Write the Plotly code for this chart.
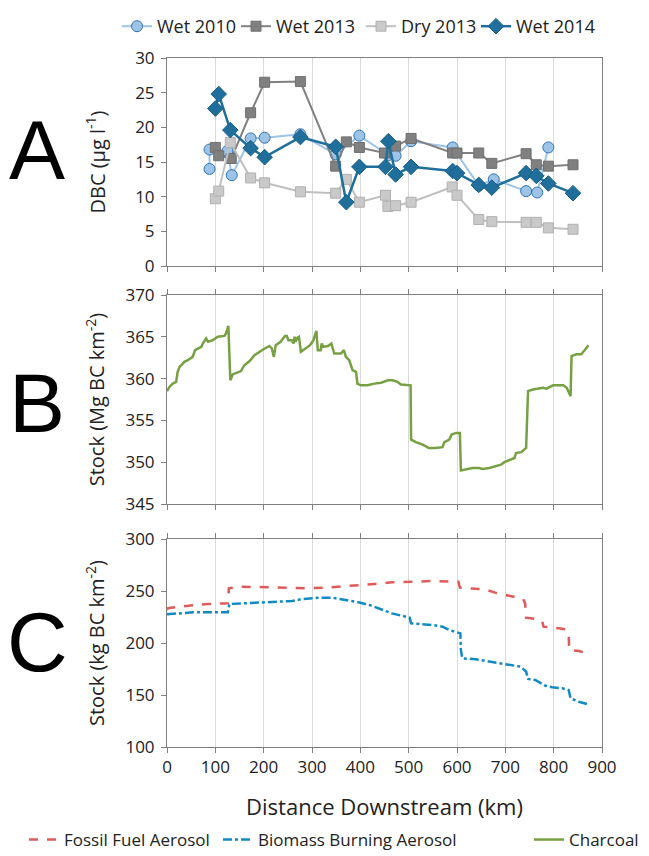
import plotly.graph_objects as go

# ---------------- Panel A data: DBC (ug/l) ----------------
wet2010_km = [88, 88, 125, 134, 173, 202, 276, 349, 398, 458, 473, 505, 591, 645, 676, 743, 766, 789]
wet2010_val = [14.0, 16.8, 16.6, 13.1, 18.4, 18.5, 19.0, 16.1, 18.8, 16.0, 15.9, 18.0, 17.1, 11.6, 12.5, 10.8, 10.6, 17.1]

wet2013_km = [100, 107, 133, 173, 202, 276, 349, 371, 398, 450, 473, 505, 591, 600, 645, 672, 743, 764, 789, 840]
wet2013_val = [17.1, 15.9, 15.5, 22.1, 26.5, 26.6, 14.4, 17.9, 17.1, 16.3, 17.3, 18.4, 16.3, 16.3, 16.3, 14.8, 16.2, 14.6, 14.4, 14.6]

dry2013_km = [100, 107, 131, 173, 202, 276, 349, 371, 398, 452, 457, 473, 505, 590, 600, 645, 672, 743, 764, 789, 840]
dry2013_val = [9.7, 10.8, 17.8, 12.7, 12.0, 10.7, 10.5, 12.5, 9.2, 10.2, 8.6, 8.7, 9.2, 11.4, 10.2, 6.7, 6.4, 6.3, 6.3, 5.5, 5.3]

wet2014_km = [100, 107, 131, 173, 202, 276, 349, 371, 398, 452, 458, 473, 505, 591, 600, 645, 672, 743, 764, 789, 840]
wet2014_val = [22.7, 24.8, 19.6, 17.0, 15.7, 18.6, 17.2, 9.2, 14.3, 14.3, 18.0, 13.2, 14.3, 13.7, 13.4, 11.7, 11.3, 13.4, 13.0, 11.9, 10.5]

# ---------------- Panel B data: charcoal stock (Mg BC km-2) ----------------
charcoal_km = [0, 5, 12, 19, 22, 26, 36, 43, 53, 58, 71, 74, 81, 85, 95, 105, 119, 122, 127, 129, 131,
               136, 146, 153, 160, 171, 181, 191, 202, 212, 217, 221, 225, 235, 244, 248, 251, 258,
               262, 264, 266, 270, 273, 277, 287, 296, 303, 309, 312, 318, 320, 323, 333, 340, 346,
               360, 366, 370, 377, 384, 391, 394, 401, 415, 429, 443, 457, 467, 477, 484, 504, 505,
               515, 529, 542, 556, 570, 574, 584, 589, 598, 606, 608, 618, 632, 646, 653, 667, 680,
               691, 698, 709, 719, 722, 733, 743, 747, 757, 771, 778, 785, 799, 820, 827, 835, 837,
               847, 857, 864, 867, 872]
charcoal_val = [358.5, 359.0, 359.4, 359.6, 360.8, 361.4, 362.0, 362.2, 362.6, 363.4, 363.8, 364.2, 364.8,
                364.4, 364.6, 365.0, 365.1, 365.4, 366.3, 362.6, 359.8,
                360.5, 360.7, 360.9, 361.6, 362.1, 362.8, 363.2, 363.6, 363.9, 363.6, 362.6, 364.0,
                364.4, 365.1, 365.1, 364.6, 364.6,
                364.2, 365.0, 364.4, 364.9, 365.0, 363.2, 363.6, 364.0, 364.6, 365.7, 363.4, 363.4,
                364.2, 363.8, 363.9, 364.2, 363.0,
                363.0, 363.4, 362.6, 362.2, 361.0, 360.8, 359.4, 359.2, 359.2, 359.4, 359.5, 359.8,
                359.8, 359.6, 359.3, 359.2, 352.7,
                352.4, 352.1, 351.7, 351.7, 351.8, 352.4, 352.7, 353.3, 353.5, 353.5, 349.0, 349.1,
                349.3, 349.3, 349.2, 349.3, 349.5,
                349.7, 350.0, 350.3, 350.5, 351.1, 351.2, 351.7, 358.5, 358.7, 358.8, 358.9, 358.8,
                359.2, 359.2, 358.9, 357.9, 362.7,
                362.9, 362.9, 363.4, 363.6, 364.0]

# ---------------- Panel C data: aerosol stock (kg BC km-2) ----------------
fossil_km = [0, 2, 26, 54, 83, 126, 128, 150, 190, 259, 293, 327, 361, 396, 430, 465, 499, 522, 550, 591,
             603, 606, 630, 658, 679, 699, 720, 737, 741, 743, 762, 776, 779, 803, 821, 831, 832, 852, 869]
fossil_val = [232.0, 233.4, 235.0, 236.5, 237.5, 238.1, 252.6, 254.2, 253.8, 252.6, 252.6, 253.2, 254.2,
              255.8, 256.8, 258.3, 259.0, 259.3, 259.6, 259.0, 259.0, 253.2, 252.6, 251.6, 248.4, 246.2,
              243.6, 242.3, 238.1, 224.4, 223.1, 221.2, 215.7, 214.7, 213.5, 210.3, 193.3, 192.3, 190.1]

biomass_km = [0, 19, 54, 102, 126, 129, 156, 190, 225, 259, 280, 314, 342, 369, 396, 423, 451, 465, 485,
              502, 505, 522, 550, 570, 584, 607, 608, 611, 639, 660, 680, 708, 732, 743, 747, 762, 783,
              797, 818, 831, 835, 852, 869]
biomass_val = [227.6, 228.5, 229.5, 229.5, 229.5, 237.5, 238.2, 238.8, 239.7, 240.4, 242.3, 243.6, 243.6,
               241.3, 239.1, 235.9, 230.8, 228.5, 226.3, 224.4, 218.9, 218.5, 217.3, 215.7, 212.5, 209.3,
               193.3, 185.3, 184.3, 182.7, 181.1, 179.5, 177.2, 172.4, 165.4, 164.4, 158.9, 157.4, 156.4,
               154.8, 146.8, 143.5, 141.3]

x_ticks = [0, 100, 200, 300, 400, 500, 600, 700, 800, 900]

FONT = "Open Sans"
AXC = "#7f7f7f"
GRID = "#d9d9d9"
TXT = "#222222"

# The page body has an 8px margin, so the figure is drawn 8px smaller and all
# screen-pixel layout targets are shifted by OFF.
OFF = 8
W, H = 649 - OFF, 856 - OFF
LEFT, RIGHT = 167 - OFF, 602 - OFF
top, bottom = 58 - OFF, 747 - OFF
pw = RIGHT - LEFT
ph = bottom - top


def px_x(x):
    return (x - OFF - LEFT) / pw


def px_y(y):
    return (bottom - (y - OFF)) / ph


def dom(y0, y1):
    return [px_y(y1), px_y(y0)]


fig = go.Figure()

# Panel A traces (each with its own single-entry legend so positions match the reference)
fig.add_trace(go.Scatter(x=wet2010_km, y=wet2010_val, name="Wet 2010", mode="lines+markers",
                         line=dict(color="#9dc3e6", width=2),
                         marker=dict(symbol="circle", size=11, color="#9dc3e6",
                                     line=dict(color="#2e75b6", width=1)),
                         xaxis="x", yaxis="y", legend="legend"))
fig.add_trace(go.Scatter(x=wet2013_km, y=wet2013_val, name="Wet 2013", mode="lines+markers",
                         line=dict(color="#808080", width=2),
                         marker=dict(symbol="square", size=10, color="#808080",
                                     line=dict(color="#6f6f6f", width=1)),
                         xaxis="x", yaxis="y", legend="legend3"))
fig.add_trace(go.Scatter(x=dry2013_km, y=dry2013_val, name="Dry 2013", mode="lines+markers",
                         line=dict(color="#bfbfbf", width=2),
                         marker=dict(symbol="square", size=10, color="#c9c9c9",
                                     line=dict(color="#b0b0b0", width=1)),
                         xaxis="x", yaxis="y", legend="legend4"))
fig.add_trace(go.Scatter(x=wet2014_km, y=wet2014_val, name="Wet 2014", mode="lines+markers",
                         line=dict(color="#1f6e9c", width=2.5),
                         marker=dict(symbol="diamond", size=12, color="#1f6e9c",
                                     line=dict(color="#1a5f88", width=1)),
                         xaxis="x", yaxis="y", legend="legend5"))

# Panel B trace
fig.add_trace(go.Scatter(x=charcoal_km, y=charcoal_val, name="Charcoal", mode="lines",
                         line=dict(color="#77a043", width=2.5),
                         xaxis="x2", yaxis="y2", legend="legend7"))

# Panel C traces
fig.add_trace(go.Scatter(x=fossil_km, y=fossil_val, name="Fossil Fuel Aerosol", mode="lines",
                         line=dict(color="#e05a5a", width=2.5, dash="dash"),
                         xaxis="x3", yaxis="y3", legend="legend2"))
fig.add_trace(go.Scatter(x=biomass_km, y=biomass_val, name="Biomass Burning Aerosol", mode="lines",
                         line=dict(color="#118ac4", width=2.5, dash="dashdot"),
                         xaxis="x3", yaxis="y3", legend="legend6"))

tickfont = dict(family=FONT, size=17, color=TXT)
titlefont = dict(family=FONT, size=20, color=TXT)

xbase = dict(range=[0, 900], tickvals=x_ticks, showgrid=True, gridcolor=GRID, gridwidth=1,
             showline=True, linecolor=AXC, linewidth=1, ticks="outside", ticklen=5, tickcolor=AXC,
             zeroline=False, tickfont=tickfont)
ybase = dict(showgrid=False, showline=True, linecolor=AXC, linewidth=1, ticks="outside", ticklen=5,
             tickcolor=AXC, zeroline=False, tickfont=tickfont, mirror=True, ticklabelstandoff=3)


def leg(text_start_px, y_px, size, anchor="middle"):
    # plotly puts the entry text ~39px right of the legend's left edge
    return dict(orientation="h", x=px_x(text_start_px - 39), xanchor="left",
                y=px_y(y_px), yanchor=anchor, font=dict(family=FONT, size=size, color=TXT),
                itemwidth=30, bgcolor="rgba(0,0,0,0)", borderwidth=0)


fig.update_layout(
    width=W, height=H,
    margin=dict(l=LEFT, r=W - RIGHT, t=top, b=H - bottom, autoexpand=False),
    paper_bgcolor="white", plot_bgcolor="white",
    font=dict(family=FONT, color=TXT),
    xaxis=dict(xbase, domain=[0, 1], anchor="y", showticklabels=False, mirror=True),
    xaxis2=dict(xbase, domain=[0, 1], anchor="y2", showticklabels=False, mirror="ticks"),
    xaxis3=dict(xbase, domain=[0, 1], anchor="y3", mirror="ticks",
                title=dict(text="Distance Downstream (km)", font=dict(family=FONT, size=22, color=TXT),
                           standoff=22)),
    yaxis=dict(ybase, domain=dom(58, 266), anchor="x", range=[0, 30], dtick=5,
               title=dict(text="DBC (µg l<sup>-1</sup>)", font=titlefont, standoff=24)),
    yaxis2=dict(ybase, domain=dom(295, 504), anchor="x2", range=[345, 370], dtick=5,
                title=dict(text="Stock (Mg BC km<sup>-2</sup>)", font=titlefont, standoff=15)),
    yaxis3=dict(ybase, domain=dom(539, 747), anchor="x3", range=[100, 300], dtick=50,
                title=dict(text="Stock (kg BC km<sup>-2</sup>)", font=titlefont, standoff=15)),
    showlegend=True,
    legend=leg(156, 8, 18, "top"),
    legend3=leg(275, 8, 18, "top"),
    legend4=leg(400, 8, 18, "top"),
    legend5=leg(515, 8, 18, "top"),
    legend2=leg(63, 840, 17),
    legend6=leg(257, 840, 17),
    legend7=leg(568, 840, 17),
)

# Panel letters
for letter, yc in [("A", 150), ("B", 403), ("C", 642)]:
    fig.add_annotation(text=letter, xref="paper", yref="paper", x=px_x(37),
                       y=px_y(yc), xanchor="center", yanchor="middle", showarrow=False,
                       font=dict(family="Liberation Sans", size=84, color="black"))

fig.write_html("out.html")
